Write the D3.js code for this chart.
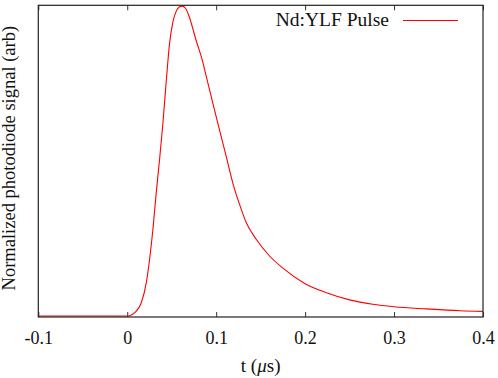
<!DOCTYPE html>
<html><head><meta charset="utf-8">
<script src="https://cdn.jsdelivr.net/npm/d3@7"></script>
<style>body{margin:0;background:#fff}</style>
</head><body>
<script>
// data: time in microseconds, normalized signal
const timeUs = [-0.1,-0.05,0,0.0026,0.006,0.010,0.0157,0.0214,0.0251,0.0288,0.0326,0.0363,0.040,0.0439,0.0476,0.0514,0.055,0.0585,0.0618,0.0655,0.0698,0.0774,0.0844,0.0889,0.0963,0.1038,0.1114,0.1188,0.1263,0.1339,0.145,0.1598,0.175,0.1995,0.224,0.25,0.276,0.30,0.336,0.374,0.4];
const signal = [0.003,0.003,0.003,0.004,0.009,0.018,0.045,0.11,0.185,0.28,0.40,0.505,0.62,0.76,0.88,0.95,0.983,0.997,1.0,0.993,0.965,0.89,0.826,0.773,0.687,0.601,0.515,0.430,0.362,0.303,0.250,0.197,0.157,0.108,0.078,0.055,0.041,0.033,0.026,0.020,0.018];
const xTicks = [-0.1,0,0.1,0.2,0.3,0.4];
const xTickLabels = ["-0.1","0","0.1","0.2","0.3","0.4"];
const seriesName = "Nd:YLF Pulse";

const W=498,H=378;
const L=38.3,R=483,T=5.3,B=317;
const svg=d3.select("body").append("svg").attr("width",W).attr("height",H);
const x=d3.scaleLinear().domain([-0.1,0.4]).range([L,R]);
const y=d3.scaleLinear().domain([0,1.0025]).range([B,T]);
const font="'Liberation Serif', serif";

// line
svg.append("path").datum(timeUs.map((t,i)=>[t,signal[i]]))
 .attr("fill","none").attr("stroke","#ff0000").attr("stroke-width",1.1)
 .attr("d",d3.line().x(d=>x(d[0])).y(d=>y(d[1])).curve(d3.curveMonotoneX));

// axes (ticks inward)
const gBottom=svg.append("g").attr("transform",`translate(0,${B})`)
 .call(d3.axisBottom(x).tickValues(xTicks).tickFormat((d,i)=>xTickLabels[i]).tickSizeInner(-5).tickSizeOuter(0).tickPadding(14));
gBottom.select(".domain").remove();
gBottom.selectAll("line").attr("stroke","#333").attr("stroke-width",1);
gBottom.selectAll("text").attr("font-family",font).attr("font-size",18).attr("fill","#111");
const gTop=svg.append("g").attr("transform",`translate(0,${T})`)
 .call(d3.axisTop(x).tickValues(xTicks).tickFormat("").tickSizeInner(-5).tickSizeOuter(0));
gTop.select(".domain").remove();
gTop.selectAll("line").attr("stroke","#333");

// frame
svg.append("rect").attr("x",L).attr("y",T).attr("width",R-L).attr("height",B-T)
 .attr("fill","none").attr("stroke","#222").attr("stroke-width",1.2);

// labels
svg.append("text").attr("x",(L+R)/2).attr("y",372).attr("text-anchor","middle")
 .attr("font-family",font).attr("font-size",19).attr("fill","#111")
 .call(t=>{t.append("tspan").text("t (");t.append("tspan").attr("font-style","italic").text("μ");t.append("tspan").text("s)");});
svg.append("text").attr("transform",`translate(15,${(T+B)/2 - 3}) rotate(-90)`).attr("text-anchor","middle")
 .attr("font-family",font).attr("font-size",18.5).attr("fill","#111")
 .text("Normalized photodiode signal (arb)");

// legend
svg.append("text").attr("x",389).attr("y",26).attr("text-anchor","end")
 .attr("font-family",font).attr("font-size",19.5).attr("fill","#111").text(seriesName);
svg.append("line").attr("x1",403).attr("x2",458).attr("y1",20.5).attr("y2",20.5)
 .attr("stroke","#ff0000").attr("stroke-width",1.1);
</script>
</body></html>
